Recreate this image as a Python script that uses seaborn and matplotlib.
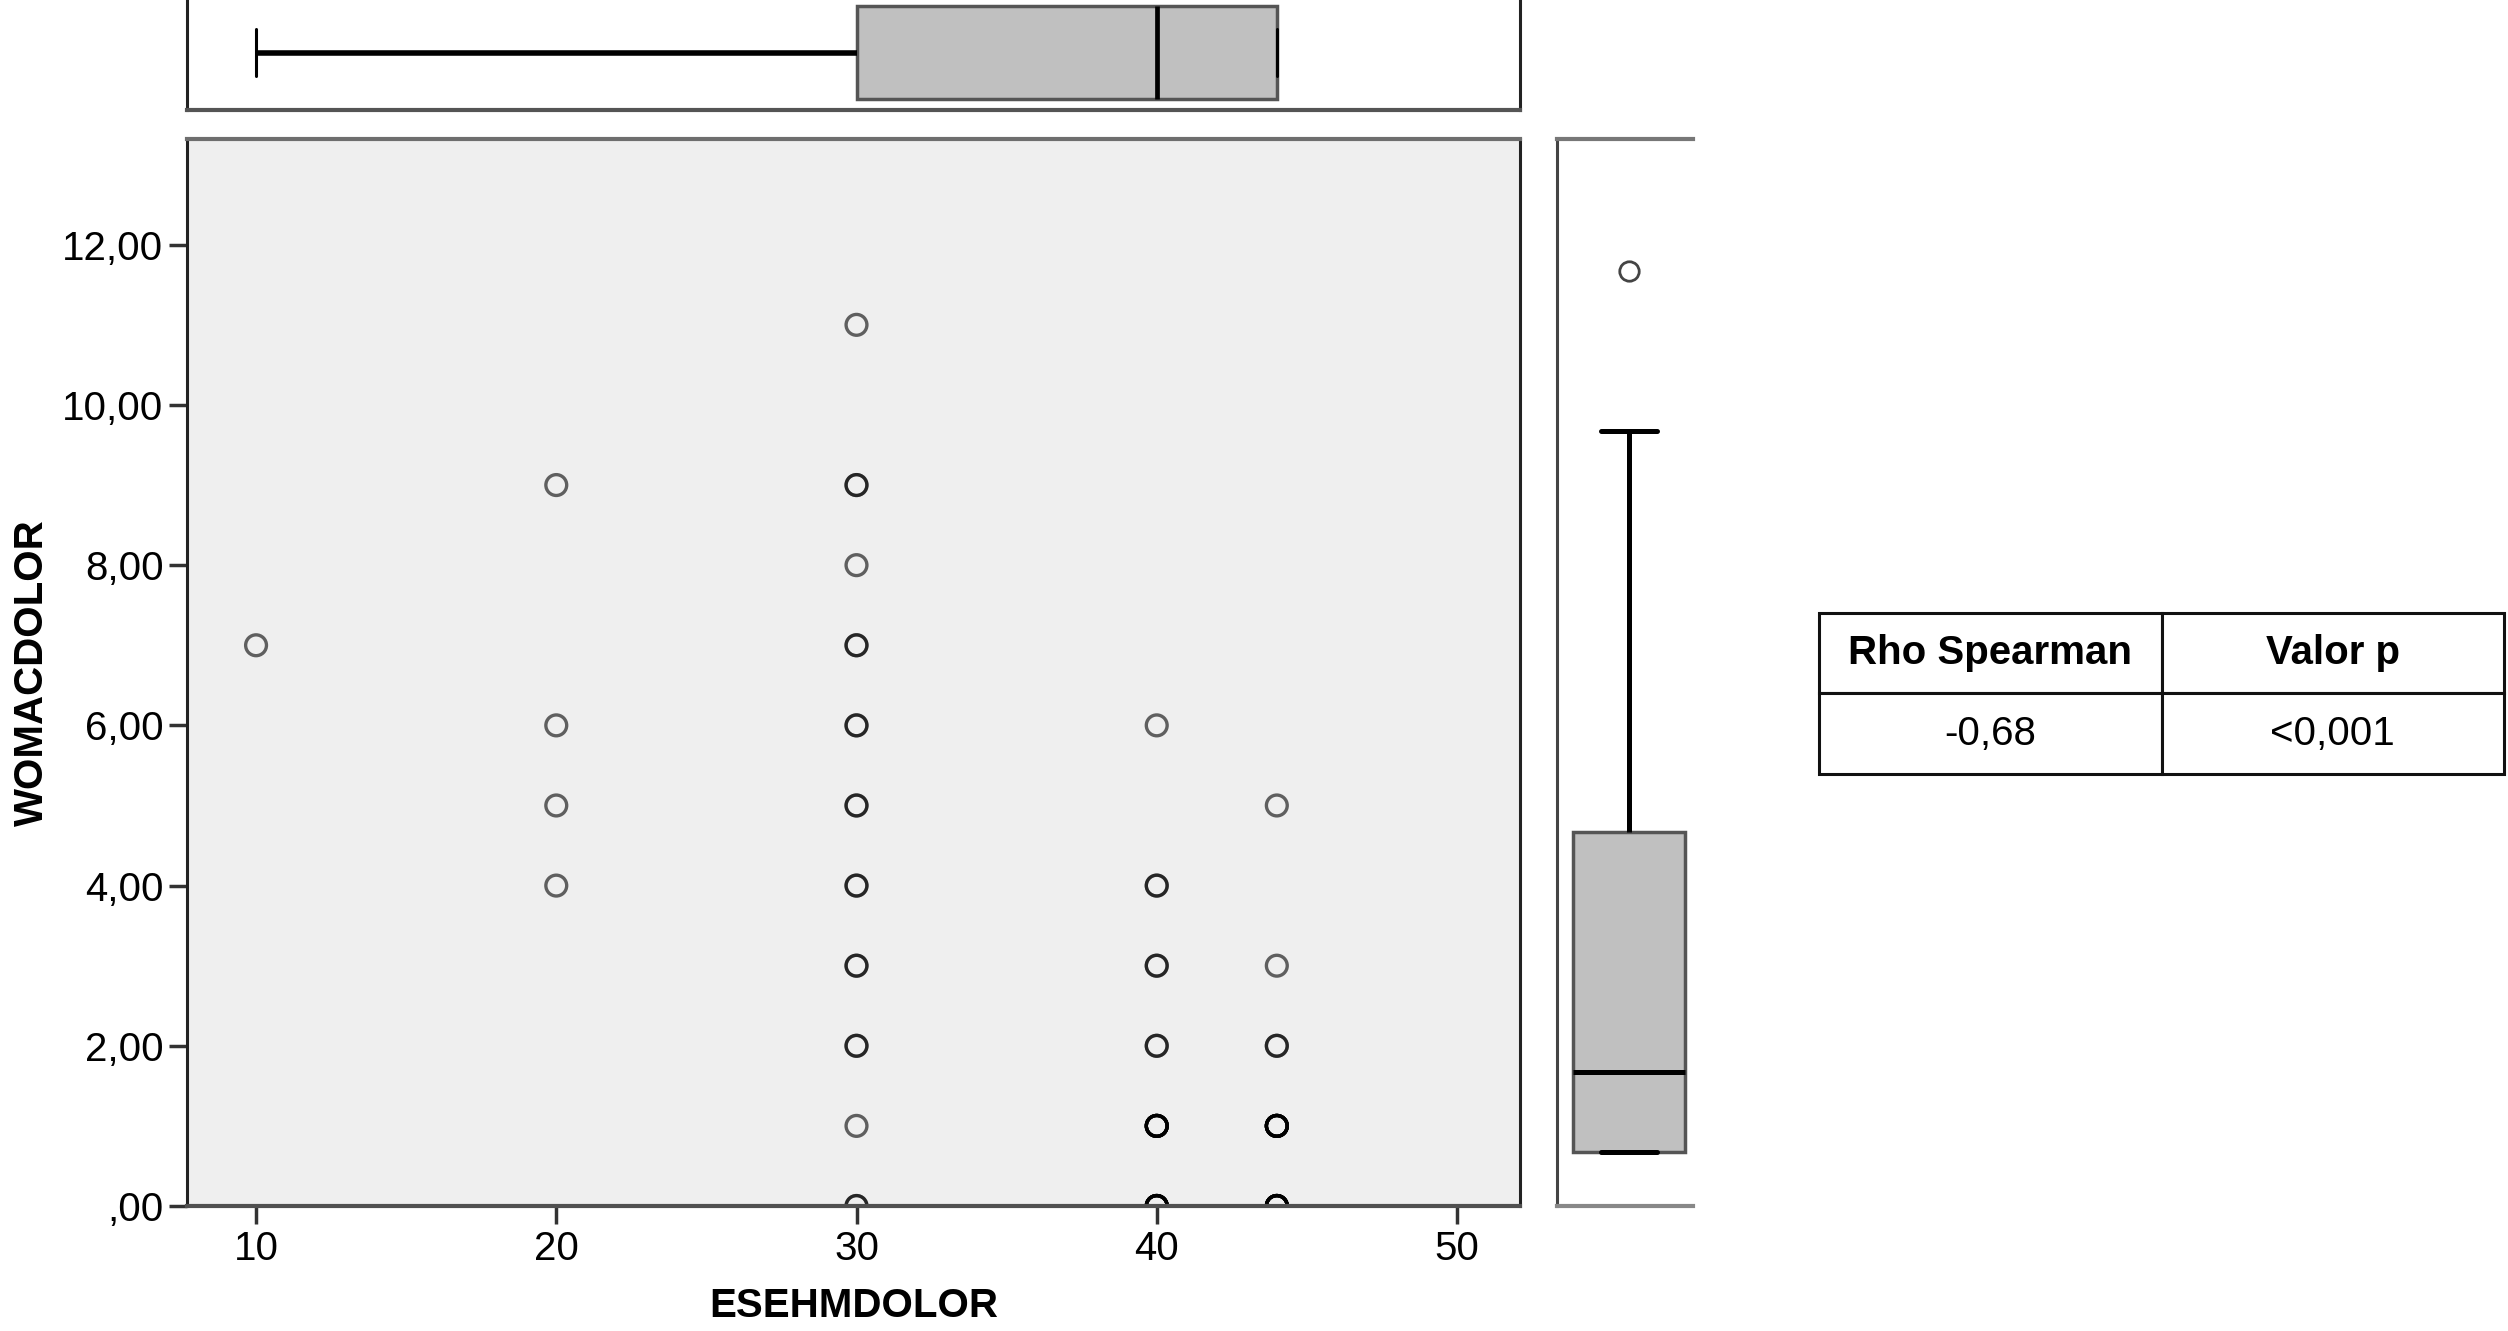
import matplotlib
matplotlib.use("Agg")
import matplotlib.pyplot as plt
import numpy as np
import pandas as pd
import seaborn as sns

# --- Data --------------------------------------------------------------------
# Each x column holds the WOMAC values seen at that ESEHM score;
# repeated values stand for overlapping (darker) circles.
esehm_levels = [10, 20, 30, 40, 44]
womac_by_level = [
    [7],
    [9, 6, 5, 4],
    [11, 9, 9, 8, 7, 7, 6, 6, 5, 5, 4, 4, 3, 3, 2, 2, 1, 0, 0],
    [6, 4, 4, 3, 3, 2, 2, 1, 1, 1, 1, 1, 1, 1, 0, 0, 0, 0, 0, 0, 0, 0],
    [5, 3, 2, 2, 1, 1, 1, 1, 1, 1, 1, 1, 0, 0, 0, 0, 0, 0, 0, 0, 0],
]

x_ticks = [10, 20, 30, 40, 50]
y_ticks = [0, 2, 4, 6, 8, 10, 12]
y_tick_labels = [",00", "2,00", "4,00", "6,00", "8,00", "10,00", "12,00"]

table_header = ["Rho Spearman", "Valor p"]
table_row = ["-0,68", "<0,001"]

rows = [(x, y) for x, ys in zip(esehm_levels, womac_by_level) for y in ys]
df = pd.DataFrame(rows, columns=["ESEHMDOLOR", "WOMACDOLOR"])

# --- Style -------------------------------------------------------------------
sns.set_style("white")
plt.rcParams["font.family"] = ["Liberation Sans", "DejaVu Sans"]
plt.rcParams["text.color"] = "black"
plt.rcParams["axes.labelcolor"] = "black"

W, H = 2508, 1331
fig = plt.figure(figsize=(W / 100, H / 100), dpi=100)


def frac(left, top, right, bottom):
    # pixel box -> figure fraction
    return [left / W, 1 - bottom / H, (right - left) / W, (bottom - top) / H]


ax = fig.add_axes(frac(187, 139, 1520, 1206))
ax_top = fig.add_axes(frac(187, -5, 1520, 110))
ax_right = fig.add_axes(frac(1557, 139, 1693, 1206))
ax_tab = fig.add_axes(frac(1819, 613, 2504, 774))

box_face = "#c0c0c0"
edge_gray = "#555555"
flier = dict(marker="o", markersize=14, markerfacecolor="none",
             markeredgecolor="#444444", markeredgewidth=2.0)

# --- Main scatter ------------------------------------------------------------
ax.set_facecolor("#efefef")
sns.scatterplot(data=df, x="ESEHMDOLOR", y="WOMACDOLOR", ax=ax,
                marker="o", s=225, facecolor="none",
                edgecolor=(0, 0, 0, 0.6), linewidth=2.4)
ax.set_xlim(7.7, 52.1)
ax.set_ylim(0, 13.32)
ax.set_xticks(x_ticks, labels=[str(v) for v in x_ticks])
ax.set_yticks(y_ticks, labels=y_tick_labels)
ax.tick_params(axis="both", direction="out", length=13, width=2.5,
               color="#333333", labelsize=29, labelcolor="black", pad=4,
               bottom=True, left=True, top=False, right=False)
ax.set_xlabel("ESEHMDOLOR", fontsize=29, fontweight="bold", labelpad=14,
              color="black")
ax.set_ylabel("WOMACDOLOR", fontsize=29, fontweight="bold", labelpad=8,
              color="black")
for side, col, lw in [("left", "#222222", 2.2), ("right", "#222222", 2.2),
                      ("top", "#6e6e6e", 3.0), ("bottom", "#505050", 3.0)]:
    ax.spines[side].set_visible(True)
    ax.spines[side].set_color(col)
    ax.spines[side].set_linewidth(lw)

# --- Top marginal boxplot ----------------------------------------------------
sns.boxplot(x=df["ESEHMDOLOR"], ax=ax_top, orient="h", width=0.8,
            color=box_face, saturation=1, linecolor=edge_gray, linewidth=2.5,
            whiskerprops=dict(color="black", linewidth=4.0),
            capprops=dict(color="black", linewidth=2.2),
            medianprops=dict(color="black", linewidth=3.4),
            flierprops=flier)
ax_top.set_xlim(7.7, 52.1)
ax_top.set_xticks([])
ax_top.set_yticks([])
ax_top.set_xlabel("")
ax_top.set_ylabel("")
ax_top.spines["top"].set_visible(False)
for side, col, lw in [("left", "#222222", 2.2), ("right", "#222222", 2.2),
                      ("bottom", "#555555", 3.0)]:
    ax_top.spines[side].set_visible(True)
    ax_top.spines[side].set_color(col)
    ax_top.spines[side].set_linewidth(lw)

# --- Right marginal boxplot --------------------------------------------------
sns.boxplot(y=df["WOMACDOLOR"], ax=ax_right, orient="v", width=0.82,
            color=box_face, saturation=1, linecolor=edge_gray, linewidth=2.5,
            whiskerprops=dict(color="black", linewidth=3.6),
            capprops=dict(color="black", linewidth=3.6),
            medianprops=dict(color="black", linewidth=3.6),
            flierprops=flier)
ax_right.set_xlim(-0.53, 0.47)
ax_right.set_ylim(-0.67, 12.65)
ax_right.set_xticks([])
ax_right.set_yticks([])
ax_right.set_xlabel("")
ax_right.set_ylabel("")
ax_right.spines["right"].set_visible(False)
for side, col, lw in [("left", "#444444", 2.2), ("top", "#777777", 3.0),
                      ("bottom", "#888888", 3.0)]:
    ax_right.spines[side].set_visible(True)
    ax_right.spines[side].set_color(col)
    ax_right.spines[side].set_linewidth(lw)

# --- Correlation table -------------------------------------------------------
ax_tab.axis("off")
tbl = ax_tab.table(cellText=[table_row], colLabels=table_header,
                   cellLoc="center", bbox=[0, 0, 1, 1])
tbl.auto_set_font_size(False)
for (r, c), cell in tbl.get_celld().items():
    cell.set_linewidth(2.2)
    cell.set_edgecolor("#111111")
    cell.get_text().set_fontsize(29)
    cell.get_text().set_color("black")
    if r == 0:
        cell.get_text().set_fontweight("bold")

fig.savefig("out.png", dpi=100)
